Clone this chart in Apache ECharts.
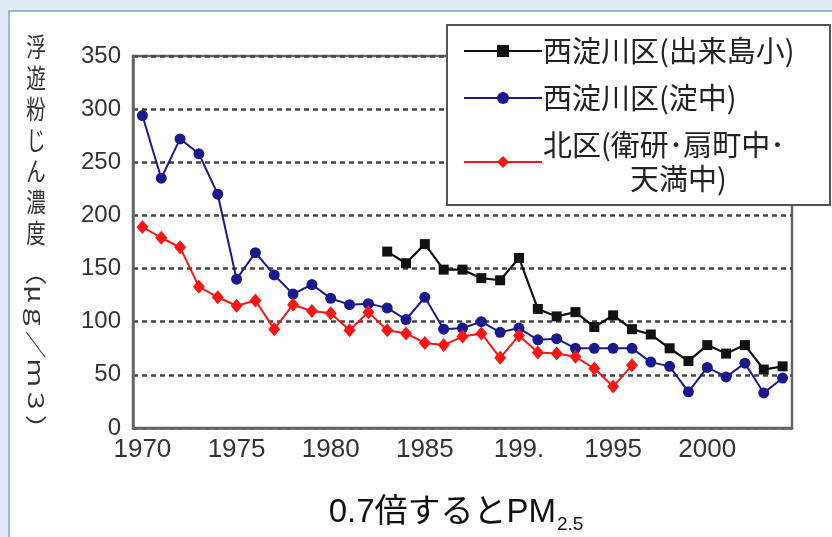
<!DOCTYPE html>
<html><head><meta charset="utf-8">
<script src="https://cdn.jsdelivr.net/npm/echarts@6/dist/echarts.min.js"></script>
<style>html,body{margin:0;padding:0;background:#dcebf6;}#c{width:832px;height:537px;}</style>
</head><body><div id="c"></div>
<script>
const years = ['1970','1971','1972','1973','1974','1975','1976','1977','1978','1979',
  '1980','1981','1982','1983','1984','1985','1986','1987','1988','1989',
  '1990','1991','1992','1993','1994','1995','1996','1997','1998','1999',
  '2000','2001','2002','2003','2004'];
const tickYears = ['1970','1975','1980','1985','1990','1995','2000'];
const tickLabels = ['1970','1975','1980','1985','199.','1995','2000'];
const yTicks = [0,50,100,150,200,250,300,350];
const nameA = '西淀川区(出来島小)';
const nameB = '西淀川区(淀中)';
const nameC = '北区(衛研･扇町中･\n　　　天満中)';
const seriesA = [null,null,null,null,null,null,null,null,null,null,
  null,null,null,166,155,173,149,149,141,139,
  160,112,105,109,95,106,93,88,75,63,
  78,70,78,55,58];
const seriesB = [294,235,272,258,220,140,165,144,126,135,
  122,116,117,113,102,123,93,94,100,90,
  94,83,84,75,75,75,75,62,58,34,
  57,48,61,33,47];
const seriesC = [189,179,170,133,123,115,120,93,116,110,
  108,92,109,92,89,80,78,86,89,66,
  87,71,70,67,56,39,59,null,null,null,
  null,null,null,null,null];

const chart = echarts.init(document.getElementById('c'));
const lab = {fontFamily:'Liberation Sans, Arial, sans-serif', color:'#333'};
chart.setOption({
  backgroundColor:'#dcebf6',
  animation:false,
  grid:{left:133, top:56, right:40, bottom:109, show:true, borderColor:'#666', borderWidth:2.5, backgroundColor:'#fff'},
  graphic:[
    {type:'rect', z:-10, shape:{x:9,y:11,width:840,height:540}, style:{fill:'#fff', stroke:'#7fa6cf', lineWidth:1.5}},
    {type:'rect', z:10, shape:{x:447,y:25,width:383,height:180}, style:{fill:'#fff', stroke:'#555', lineWidth:2}},
    {type:'text', z:10, x:36, y:32, style:{text:'浮\n遊\n粉\nじ\nん\n濃\n度', fontSize:26, lineHeight:31, align:'center', fill:'#333', fontFamily:'Noto Sans CJK JP'}, scaleX:0.75},
    {type:'text', z:10, x:36, y:350, rotation:-Math.PI/2, style:{text:'（μｇ／ｍ３）', fontSize:28, align:'center', verticalAlign:'middle', fill:'#333', fontFamily:'Noto Sans CJK JP'}, scaleY:0.75},
    {type:'text', z:10, x:556, y:529, style:{text:'0.7倍するとPM', fontSize:33, align:'right', verticalAlign:'bottom', fill:'#111', fontFamily:'Liberation Sans, Noto Sans CJK JP'}},
    {type:'text', z:10, x:557, y:534, style:{text:'2.5', fontSize:19, align:'left', verticalAlign:'bottom', fill:'#111', fontFamily:'Liberation Sans'}}
  ],
  legend:{
    left:458, top:29, orient:'vertical', z:20,
    itemWidth:78, itemHeight:15, itemGap:13,
    data:[nameA,nameB,nameC],
    textStyle:{fontSize:29, lineHeight:34, color:'#222', fontFamily:'Noto Sans CJK JP', padding:[0,0,0,-4]}
  },
  xAxis:{
    type:'category', data:years, boundaryGap:true,
    axisLine:{lineStyle:{color:'#666', width:2.5}},
    axisTick:{inside:true, length:5, alignWithLabel:true, interval:0, lineStyle:{color:'#666', width:1.5}},
    axisLabel:Object.assign({fontSize:26, margin:9, interval:0,
      formatter:function(v){const i = tickYears.indexOf(v); return i>=0 ? tickLabels[i] : '';}}, lab),
    splitLine:{show:false}
  },
  yAxis:{
    type:'value', min:yTicks[0], max:yTicks[yTicks.length-1], interval:50,
    axisLine:{show:true, lineStyle:{color:'#666', width:2.5}},
    axisTick:{show:false},
    axisLabel:Object.assign({fontSize:24, margin:12}, lab),
    splitLine:{show:true, lineStyle:{color:'#444', width:2.5, type:[5,4]}}
  },
  series:[
    {name:nameA, type:'line', data:seriesA, symbol:'rect', symbolSize:10, color:'#111', lineStyle:{width:2.2}, z:3},
    {name:nameB, type:'line', data:seriesB, symbol:'circle', symbolSize:11, color:'#1a1a8e', lineStyle:{width:2}, z:3},
    {name:nameC, type:'line', data:seriesC, symbol:'diamond', symbolSize:[12,14], color:'#ff1414', lineStyle:{width:2}, z:4}
  ]
});
</script></body></html>
